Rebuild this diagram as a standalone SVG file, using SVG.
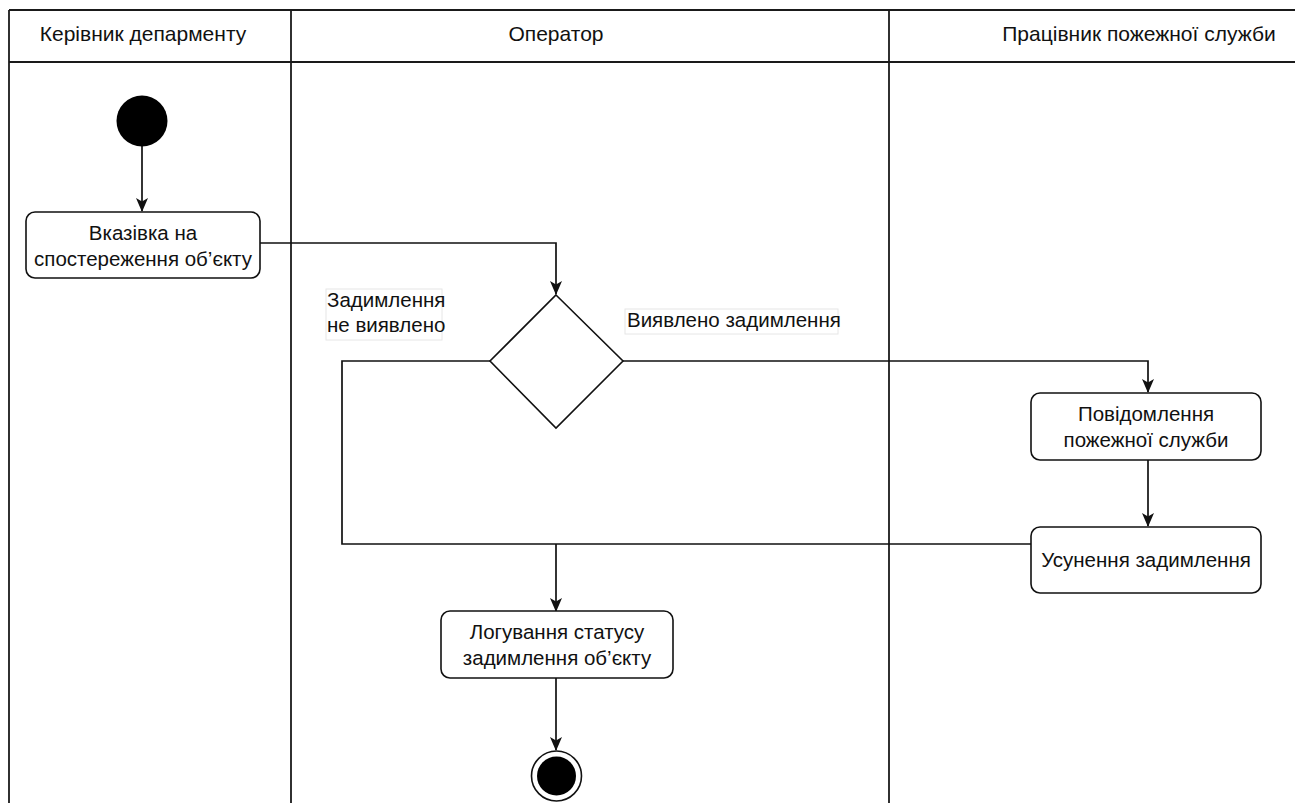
<svg xmlns="http://www.w3.org/2000/svg" width="1295" height="803" viewBox="0 0 1295 803">
  <style>
    text { font-family: "Liberation Sans", Arial, sans-serif; font-size: 20.5px; fill: #111; }
    .hdr { font-size: 21px; }
    .mid { text-anchor: middle; }
    .lane { fill: none; stroke: #1a1a1a; stroke-width: 1.8; }
    .act { fill: #fff; stroke: #111; stroke-width: 1.6; }
    .edge { fill: none; stroke: #111; stroke-width: 1.7; }
    .lbl { fill: #fff; stroke: #e6e6e6; stroke-width: 1; }
  </style>
  <defs>
    <marker id="arrow" viewBox="0 0 14 14" refX="13" refY="7" markerWidth="14" markerHeight="14" markerUnits="userSpaceOnUse" orient="auto">
      <path d="M0,1 L14,7 L0,13 L3.5,7 z" fill="#111"/>
    </marker>
  </defs>
  <rect width="1295" height="803" fill="#fff"/>

  <!-- swimlanes -->
  <g id="lanes">
    <line class="lane" x1="9" y1="10" x2="1295" y2="10"/>
    <line class="lane" x1="9" y1="62" x2="1295" y2="62"/>
    <line class="lane" x1="9" y1="10" x2="9" y2="803"/>
    <line class="lane" x1="291" y1="10" x2="291" y2="803"/>
    <line class="lane" x1="889" y1="10" x2="889" y2="803"/>
    <text class="mid hdr" x="143" y="41">Керівник депарменту</text>
    <text class="mid hdr" x="556" y="41">Оператор</text>
    <text class="mid hdr" x="1139" y="41">Працівник пожежної служби</text>
  </g>

  <!-- connectors -->
  <g id="connectors">
    <path class="edge" d="M142,146 V211" marker-end="url(#arrow)"/>
    <path class="edge" d="M260,243 H556 V294" marker-end="url(#arrow)"/>
    <path class="edge" d="M623,361 H1148 V392" marker-end="url(#arrow)"/>
    <path class="edge" d="M1148,460 V526" marker-end="url(#arrow)"/>
    <path class="edge" d="M490,361 H342 V544 H1031"/>
    <path class="edge" d="M556,544 V611" marker-end="url(#arrow)"/>
    <path class="edge" d="M556,678 V750" marker-end="url(#arrow)"/>
  </g>

  <!-- start -->
  <g id="start">
    <circle cx="142" cy="121" r="25.5" fill="#000"/>
  </g>

  <g id="instruct">
    <rect class="act" x="26" y="212" width="234" height="66" rx="9"/>
    <text class="mid" x="143" y="240">Вказівка на</text>
    <text class="mid" x="143" y="266">спостереження об’єкту</text>
  </g>

  <g id="decision">
    <path class="act" d="M556,295 L623,361 L556,428 L490,361 z"/>
  </g>

  <g id="label-no">
    <rect class="lbl" x="326" y="289" width="116" height="51"/>
    <text x="327" y="307">Задимлення</text>
    <text x="327" y="332">не виявлено</text>
  </g>

  <g id="label-yes">
    <rect class="lbl" x="625" y="309" width="213" height="25"/>
    <text x="627" y="327">Виявлено задимлення</text>
  </g>

  <g id="notify">
    <rect class="act" x="1031" y="393" width="230" height="67" rx="9"/>
    <text class="mid" x="1146" y="421">Повідомлення</text>
    <text class="mid" x="1146" y="447">пожежної служби</text>
  </g>

  <g id="eliminate">
    <rect class="act" x="1031" y="527" width="230" height="66" rx="9"/>
    <text class="mid" x="1146" y="567">Усунення задимлення</text>
  </g>

  <g id="logging">
    <rect class="act" x="441" y="611" width="232" height="67" rx="9"/>
    <text class="mid" x="557" y="639">Логування статусу</text>
    <text class="mid" x="557" y="665">задимлення об’єкту</text>
  </g>

  <!-- end -->
  <g id="end">
    <circle cx="556.5" cy="776" r="25" fill="#fff" stroke="#111" stroke-width="1.6"/>
    <circle cx="556.5" cy="776" r="19.5" fill="#000"/>
  </g>
</svg>
